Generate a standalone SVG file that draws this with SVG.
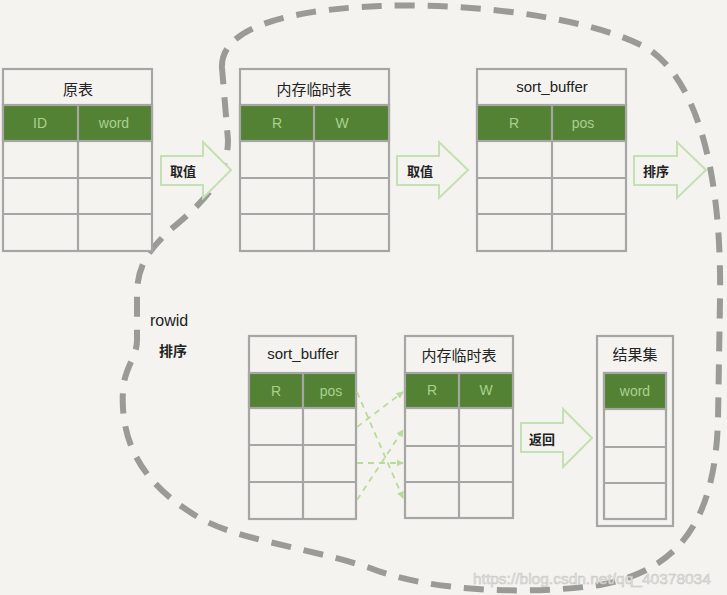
<svg xmlns="http://www.w3.org/2000/svg" width="727" height="595" viewBox="0 0 727 595">
<defs>
<style>
.bg{fill:#f4f3ef}
.cell{fill:#f4f3ef;stroke:#a6a6a4;stroke-width:2.2}
.ln{stroke:#a6a6a4;stroke-width:2.2;fill:none}
.grn{fill:#548235;stroke:#a6a6a4;stroke-width:2.2}
.ttl{font-family:"Liberation Sans","Noto Sans CJK SC",sans-serif;font-size:15px;fill:#222;text-anchor:middle}
.hd{font-family:"Liberation Sans","Noto Sans CJK SC",sans-serif;font-size:14px;fill:#a9d18e;text-anchor:middle}
.arr{fill:#f4f3ef;stroke:#c5e0b3;stroke-width:2}
.al{font-family:"Noto Sans CJK SC",sans-serif;font-size:13px;font-weight:bold;fill:#222;text-anchor:middle}
.blob{fill:none;stroke:#9a9a96;stroke-width:6;stroke-dasharray:20 13}
.gd{stroke:#b8dc98;stroke-width:1.8;stroke-dasharray:6 5;fill:none}
</style>
<marker id="ah" viewBox="0 0 10 10" refX="9" refY="5" markerWidth="4" markerHeight="4" orient="auto">
<path d="M0,0 L10,5 L0,10 z" fill="#b8dc98"/>
</marker>
</defs>
<rect class="bg" x="0" y="0" width="727" height="595"/>

<g id="blob">
<path class="blob" d="M222,68 C220,30 280,10 380,6 C480,2 600,20 650,50 C700,85 722,180 720,300 L718,420 C715,520 680,570 600,585 C530,595 430,592 370,568 C300,545 230,540 190,512 C140,480 120,440 123,390 C125,365 137,358 137,340 L137,295 C137,262 152,248 170,230 C200,205 228,180 228,140 Z"/>
</g>

<g id="t1">
<rect class="cell" x="3" y="69" width="149" height="182"/>
<rect class="grn" x="3" y="105" width="149" height="36"/>
<path class="ln" d="M3,178 H152 M3,214 H152 M78,105 V251"/>
<text class="ttl" x="78" y="95">原表</text>
<text class="hd" x="40" y="128">ID</text>
<text class="hd" x="114" y="128">word</text>
</g>

<g id="t2">
<rect class="cell" x="240" y="69" width="149" height="182"/>
<rect class="grn" x="240" y="105" width="149" height="36"/>
<path class="ln" d="M240,178 H389 M240,214 H389 M314,105 V251"/>
<text class="ttl" x="314" y="95">内存临时表</text>
<text class="hd" x="277" y="128">R</text>
<text class="hd" x="342" y="128">W</text>
</g>

<g id="t3">
<rect class="cell" x="477" y="69" width="149" height="182"/>
<rect class="grn" x="477" y="105" width="149" height="36"/>
<path class="ln" d="M477,178 H626 M477,214 H626 M552,105 V251"/>
<text class="ttl" x="552" y="92">sort_buffer</text>
<text class="hd" x="514" y="128">R</text>
<text class="hd" x="583" y="128">pos</text>
</g>

<g id="t4">
<rect class="cell" x="249" y="336" width="107" height="183"/>
<rect class="grn" x="249" y="373" width="107" height="35"/>
<path class="ln" d="M249,445 H356 M249,482 H356 M303,373 V519"/>
<text class="ttl" x="303" y="359">sort_buffer</text>
<text class="hd" x="276" y="396">R</text>
<text class="hd" x="331" y="396">pos</text>
</g>

<g id="t5">
<rect class="cell" x="405" y="336" width="108" height="182"/>
<rect class="grn" x="405" y="373" width="108" height="35"/>
<path class="ln" d="M405,446 H513 M405,482 H513 M459,373 V518"/>
<text class="ttl" x="459" y="361">内存临时表</text>
<text class="hd" x="432" y="395">R</text>
<text class="hd" x="486" y="395">W</text>
</g>

<g id="t6">
<rect class="cell" x="597" y="336" width="76" height="190"/>
<rect class="cell" x="604" y="373" width="62" height="146"/>
<rect class="grn" x="604" y="373" width="62" height="36"/>
<path class="ln" d="M604,447 H666 M604,483 H666"/>
<text class="ttl" x="635" y="360">结果集</text>
<text class="hd" x="635" y="396">word</text>
</g>

<g id="a1">
<polygon class="arr" points="161,156 203,156 203,142 231,170 203,198 203,185 161,185"/>
<text class="al" x="183" y="176">取值</text>
</g>
<g id="a2">
<polygon class="arr" points="397,156 439,156 439,142 468,170 439,198 439,185 397,185"/>
<text class="al" x="420" y="176">取值</text>
</g>
<g id="a3">
<polygon class="arr" points="634,156 677,156 677,142 706,170 677,198 677,185 634,185"/>
<text class="al" x="656" y="176">排序</text>
</g>
<g id="a4">
<polygon class="arr" points="521,423 563,423 563,409 592,438 563,467 563,452 521,452"/>
<text class="al" x="542" y="444">返回</text>
</g>

<g id="connectors">
<path class="gd" d="M357,392 L403,498" marker-end="url(#ah)"/>
<path class="gd" d="M357,427 L403,392" marker-end="url(#ah)"/>
<path class="gd" d="M357,463 L403,463" marker-end="url(#ah)"/>
<path class="gd" d="M357,500 L403,430" marker-end="url(#ah)"/>
</g>

<g id="rowid">
<text x="150" y="326" style="font-family:'Liberation Sans',sans-serif;font-size:16px;fill:#222">rowid</text>
<text class="al" x="173" y="356" style="font-size:14px">排序</text>
</g>

<text x="473" y="584" style="font-family:'Liberation Sans',sans-serif;font-size:15.5px;fill:#e2e2df;stroke:#c6c6c3;stroke-width:0.5">https://blog.csdn.net/qq_40378034</text>
</svg>
